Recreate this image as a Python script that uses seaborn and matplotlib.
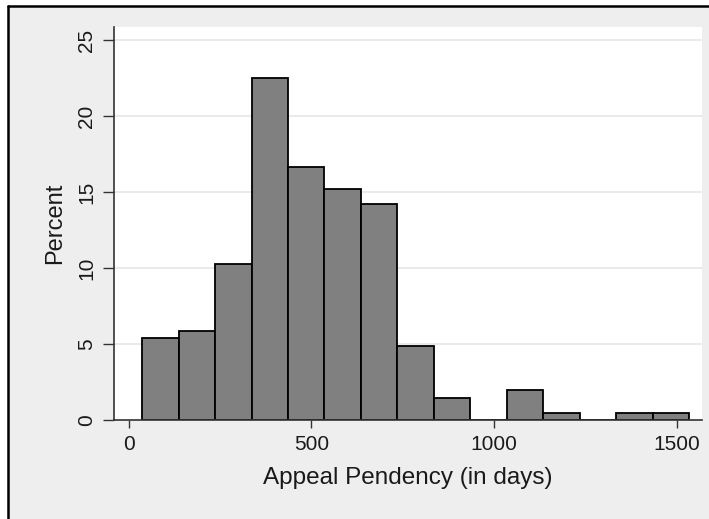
import matplotlib
matplotlib.use('Agg')
import matplotlib.pyplot as plt
import numpy as np
import pandas as pd
import seaborn as sns
from matplotlib.lines import Line2D

# Histogram values (percent per bin)
bin_start = 37
bin_width = 99.7
percent = [5.39, 5.88, 10.29, 22.55, 16.67, 15.20, 14.22, 4.90, 1.47, 0.0,
           1.96, 0.49, 0.0, 0.49, 0.49]
x_ticks = [0, 500, 1000, 1500]
y_ticks = [0, 5, 10, 15, 20, 25]

edges = bin_start + bin_width * np.arange(len(percent) + 1)
df = pd.DataFrame({'days': (edges[:-1] + edges[1:]) / 2, 'percent': percent})

sns.set_theme(style='white')
plt.rcParams['font.family'] = ['Liberation Sans', 'DejaVu Sans']

fig = plt.figure(figsize=(7.09, 5.19), dpi=100)
fig.patch.set_facecolor('#eeeeee')
ax = fig.add_axes([114 / 709, 1 - 420 / 519, (702 - 114) / 709, (420 - 26.7) / 519])
ax.set_facecolor('white')

# grid lines behind the bars
for v in y_ticks[1:]:
    ax.axhline(v, color='#e6e6e6', linewidth=1.2, zorder=0)

sns.histplot(data=df, x='days', weights='percent', bins=list(edges), stat='count',
             color='#808080', edgecolor='black', linewidth=1.3, alpha=1,
             ax=ax, zorder=2)

ax.set_xlim(-40, 1568)
ax.set_ylim(0, 25.9)
ax.set_xticks(x_ticks)
ax.set_yticks(y_ticks)
ax.set_yticklabels([str(v) for v in y_ticks], rotation=90, va='center')
ax.tick_params(axis='both', direction='out', width=1, color='#333333',
               labelsize=15, labelcolor='#1a1a1a', bottom=True, left=True)
ax.tick_params(axis='x', length=6, pad=5)
ax.tick_params(axis='y', length=8, pad=5)
ax.set_xlabel('Appeal Pendency (in days)', fontsize=17.5, color='#1a1a1a', labelpad=9)
ax.set_ylabel('Percent', fontsize=17, color='#1a1a1a', labelpad=8)

for side in ['top', 'right']:
    ax.spines[side].set_visible(False)
for side in ['left', 'bottom']:
    ax.spines[side].set_color('#333333')
    ax.spines[side].set_linewidth(1.2)

# outer frame (top and left edges), white margin outside it
fig.patches.append(plt.Rectangle((0, 1 - 5 / 519), 1, 5 / 519, transform=fig.transFigure,
                                 facecolor='white', edgecolor='none', zorder=-1))
fig.patches.append(plt.Rectangle((0, 0), 7 / 709, 1, transform=fig.transFigure,
                                 facecolor='white', edgecolor='none', zorder=-1))
fig.lines.append(Line2D([8 / 709, 1], [1 - 6 / 519, 1 - 6 / 519], transform=fig.transFigure,
                        color='black', linewidth=1.8))
fig.lines.append(Line2D([8 / 709, 8 / 709], [0, 1 - 6 / 519], transform=fig.transFigure,
                        color='black', linewidth=1.8))

fig.savefig('out.png', dpi=100, facecolor=fig.get_facecolor())
